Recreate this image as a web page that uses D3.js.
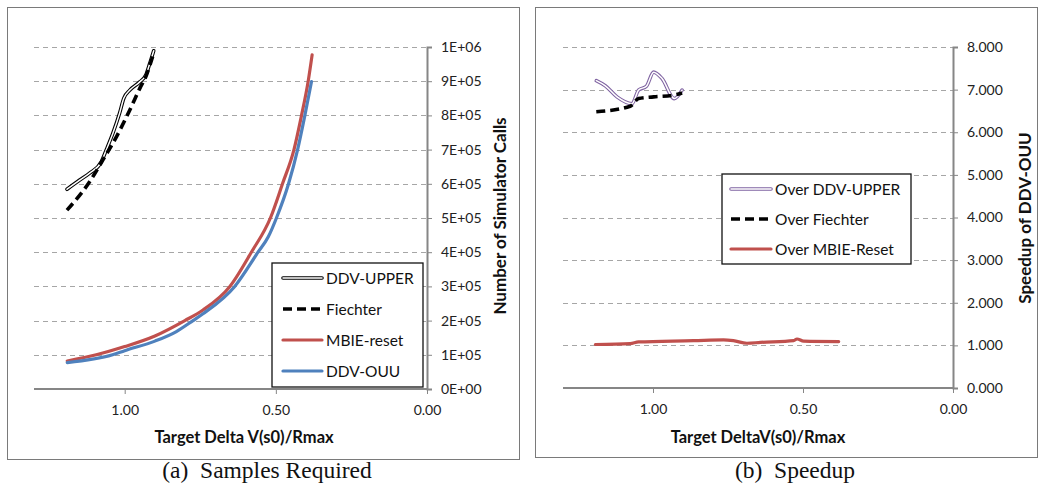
<!DOCTYPE html>
<html><head><meta charset="utf-8">
<script src="https://cdn.jsdelivr.net/npm/d3@7"></script>
<style>body{margin:0;background:#fff}svg{display:block}</style>
</head><body>
<svg id="c" width="1039" height="483"></svg>
<script>
// ---- data: panel (a) Samples Required ----
const upperX = [1.191,1.149,1.116,1.077,1.061,1.039,1.017,1.003,0.983,0.950,0.930,0.917,0.904];
const upperY = [584000,611000,631000,665000,699000,748000,806000,850000,874000,898000,918000,952000,989000];
const fiechX = [1.191,1.116,1.072,1.027,0.983,0.950,0.928,0.906];
const fiechY = [523000,606000,670000,738000,816000,879000,918000,977000];
const mbieX = [1.19,1.094,1.00,0.90,0.801,0.741,0.652,0.581,0.518,0.478,0.440,0.415,0.393,0.38];
const mbieY = [82000,100000,124000,155000,200000,231000,300000,400000,500000,600000,700000,800000,900000,977000];
const ouuX = [1.19,1.04,1.00,0.90,0.829,0.774,0.741,0.636,0.559,0.525,0.498,0.458,0.428,0.404,0.382];
const ouuY = [77000,100000,112000,140000,168000,200000,220000,300000,400000,445000,500000,600000,700000,800000,899000];
const yTicksA = [0,100000,200000,300000,400000,500000,600000,700000,800000,900000,1000000];
const yTickLabelsA = ["0E+00","1E+05","2E+05","3E+05","4E+05","5E+05","6E+05","7E+05","8E+05","9E+05","1E+06"];
const xTicks = [1.0,0.5,0.0];
const xTickLabels = ["1.00","0.50","0.00"];
const legendA = ["DDV-UPPER","Fiechter","MBIE-reset","DDV-OUU"];

// ---- data: panel (b) Speedup ----
const sUpperX = [1.189,1.159,1.120,1.070,1.048,1.022,0.998,0.970,0.929,0.903];
const sUpperY = [7.21,7.09,6.83,6.67,6.99,7.08,7.41,7.26,6.79,6.99];
const sFiechX = [1.189,1.076,1.048,0.998,0.931,0.903];
const sFiechY = [6.48,6.61,6.79,6.83,6.87,6.92];
const sMbieX = [1.192,1.076,1.048,0.865,0.765,0.732,0.687,0.642,0.531,0.520,0.498,0.381];
const sMbieY = [1.02,1.04,1.08,1.11,1.13,1.11,1.05,1.07,1.11,1.15,1.10,1.09];
const yTicksB = [0,1,2,3,4,5,6,7,8];
const yTickLabelsB = ["0.000","1.000","2.000","3.000","4.000","5.000","6.000","7.000","8.000"];
const legendB = ["Over DDV-UPPER","Over Fiechter","Over MBIE-Reset"];

const RED="#C0504D", BLUE="#4F81BD", PURPLE="#8064A2", GRID="#A6A6A6", AXIS="#868686";
const SANS="Lato, 'Open Sans', sans-serif";
const svg = d3.select("#c");

const styles = {
  upper:{kind:"double", color:"#000"},
  fiech:{kind:"dash", color:"#000"},
  mbie:{kind:"solid", color:RED},
  ouu:{kind:"solid", color:BLUE},
  supper:{kind:"double", color:PURPLE}
};

function drawLine(g, pts, st, x, y){
  const line = d3.line().x(d=>x(d[0])).y(d=>y(d[1])).curve(d3.curveMonotoneX);
  drawPath(g, line(pts), st);
}
function drawPath(g, d, st){
  if(st.kind==="double"){
    g.append("path").attr("d",d).attr("fill","none").attr("stroke",st.color).attr("stroke-width",3.6).attr("stroke-linejoin","round").attr("stroke-linecap","round");
    g.append("path").attr("d",d).attr("fill","none").attr("stroke","#fff").attr("stroke-width",1.5).attr("stroke-linejoin","round").attr("stroke-linecap","round");
  } else if(st.kind==="dash"){
    g.append("path").attr("d",d).attr("fill","none").attr("stroke",st.color).attr("stroke-width",3.6).attr("stroke-dasharray","9,5");
  } else {
    g.append("path").attr("d",d).attr("fill","none").attr("stroke",st.color).attr("stroke-width",3.2).attr("stroke-linejoin","round").attr("stroke-linecap","round");
  }
}

function panel(o){
  svg.append("rect").attr("x",o.box[0]+0.5).attr("y",o.box[1]+0.5).attr("width",o.box[2]).attr("height",o.box[3])
    .attr("fill","none").attr("stroke","#7a7a7a").attr("stroke-width",1);
  const x = d3.scaleLinear().domain([1.3,0]).range([o.left,o.right]);
  const y = d3.scaleLinear().domain(o.ydom).range([o.bottom,o.top]);
  const g = svg.append("g");
  g.selectAll(".grid").data(o.yTicks.filter(v=>v>0)).enter().append("line")
    .attr("x1",o.left).attr("x2",o.right).attr("y1",d=>Math.round(y(d))+0.5).attr("y2",d=>Math.round(y(d))+0.5)
    .attr("stroke",GRID).attr("stroke-width",1).attr("stroke-dasharray","5,4");
  const ya = d3.axisRight(y).tickValues(o.yTicks).tickSize(5).tickPadding(9)
    .tickFormat((d,i)=>o.yLabels[i]);
  const yg = g.append("g").attr("transform",`translate(${o.right},0)`).call(ya);
  yg.select(".domain").attr("stroke",AXIS).attr("stroke-width",2);
  yg.selectAll(".tick line").attr("stroke",AXIS).attr("stroke-width",1);
  yg.selectAll(".tick text").attr("font-family",SANS).attr("font-size",14).attr("fill","#222");
  const xa = d3.axisBottom(x).tickValues(xTicks).tickSize(5).tickPadding(11)
    .tickFormat((d,i)=>xTickLabels[i]);
  const xg = g.append("g").attr("transform",`translate(0,${o.bottom})`).call(xa);
  xg.select(".domain").attr("stroke",AXIS).attr("stroke-width",2).attr("d",`M${o.left},0H${o.right}`);
  xg.selectAll(".tick line").attr("stroke",AXIS).attr("stroke-width",1);
  xg.selectAll(".tick text").attr("font-family",SANS).attr("font-size",14).attr("fill","#222");
  o.series.forEach(s=>{
    drawLine(g, s.xs.map((v,i)=>[v,s.ys[i]]), styles[s.st], x, y);
  });
  svg.append("text").attr("x",o.xTitle[0]).attr("y",o.xTitle[1]).attr("text-anchor","middle")
    .attr("font-family",SANS).attr("font-weight","bold").attr("font-size",16.5).attr("fill","#111").text(o.xTitleText);
  svg.append("text").attr("transform",`translate(${o.yTitle[0]},${o.yTitle[1]}) rotate(-90)`).attr("text-anchor","middle")
    .attr("font-family",SANS).attr("font-weight","bold").attr("font-size",17).attr("fill","#111").text(o.yTitleText);
  svg.append("text").attr("x",o.caption[0]).attr("y",o.caption[1]).attr("text-anchor","middle")
    .attr("font-family","'Liberation Serif','Times New Roman',serif").attr("font-size",23.5).attr("fill","#111")
    .attr("xml:space","preserve").style("white-space","pre").text(o.captionText);
  const L=o.legend;
  svg.append("rect").attr("x",L.x).attr("y",L.y).attr("width",L.w).attr("height",L.h)
    .attr("fill","#fff").attr("stroke","#111").attr("stroke-width",1.3);
  L.items.forEach((it,i)=>{
    const yy = L.y0 + i*L.dy;
    drawPath(svg, `M${L.x+L.lx0},${yy}H${L.x+L.lx1}`, styles[it.st]);
    svg.append("text").attr("x",L.x+L.tx).attr("y",yy+5.5).attr("font-family",SANS).attr("font-size",L.fs)
      .attr("fill","#111").text(it.label);
  });
}

panel({
  box:[7,7,512,452], left:34, right:427, top:47, bottom:389, ydom:[0,1000000],
  yTicks:yTicksA, yLabels:yTickLabelsA,
  series:[{xs:upperX,ys:upperY,st:"upper"},{xs:fiechX,ys:fiechY,st:"fiech"},{xs:mbieX,ys:mbieY,st:"mbie"},{xs:ouuX,ys:ouuY,st:"ouu"}],
  xTitle:[244,443], xTitleText:"Target Delta V(s0)/Rmax",
  yTitle:[506,216], yTitleText:"Number of Simulator Calls",
  caption:[267,478], captionText:"(a)  Samples Required",
  legend:{x:272,y:263,w:151,h:124,y0:278,dy:31,lx0:11,lx1:50,tx:54,fs:15.5,
    items:legendA.map((l,i)=>({label:l,st:["upper","fiech","mbie","ouu"][i]}))}
});
panel({
  box:[535,7,502,450], left:563, right:953, top:47, bottom:388, ydom:[0,8],
  yTicks:yTicksB, yLabels:yTickLabelsB,
  series:[{xs:sUpperX,ys:sUpperY,st:"supper"},{xs:sFiechX,ys:sFiechY,st:"fiech"},{xs:sMbieX,ys:sMbieY,st:"mbie"}],
  xTitle:[758,443], xTitleText:"Target DeltaV(s0)/Rmax",
  yTitle:[1031,218], yTitleText:"Speedup of DDV-OUU",
  caption:[795,478], captionText:"(b)  Speedup",
  legend:{x:722,y:174,w:189,h:90,y0:189,dy:30,lx0:9,lx1:49,tx:53,fs:15.5,
    items:legendB.map((l,i)=>({label:l,st:["supper","fiech","mbie"][i]}))}
});
</script>
</body></html>
